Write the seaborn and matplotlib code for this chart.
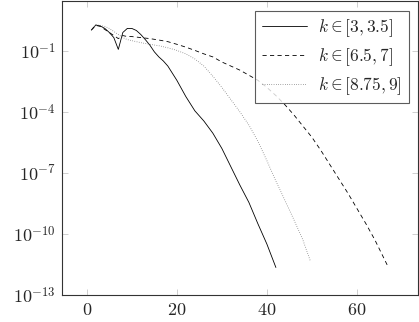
import numpy as np
import pandas as pd
import matplotlib
matplotlib.use("Agg")
import matplotlib.pyplot as plt
import seaborn as sns

# --- data (log10 of values) ---
x_a = [1, 2, 3, 4, 5, 6, 7, 8, 9, 10, 11, 12, 13, 14, 15, 16, 17, 18, 19, 20,
       21, 22, 23, 24, 25, 26, 27, 28, 30, 32, 34, 36, 38, 40, 42]
log_a = [0.02, 0.27, 0.22, 0.1, -0.1, -0.35, -0.93, -0.1, 0.1, 0.1, 0.0, -0.2,
         -0.45, -0.72, -1.05, -1.3, -1.5, -1.75, -2.1, -2.45, -2.85, -3.25,
         -3.6, -3.95, -4.2, -4.45, -4.75, -5.05, -5.8, -6.7, -7.6, -8.45,
         -9.5, -10.5, -11.65]

x_b = [1, 2, 3, 4, 5, 6, 7, 8, 9, 10, 12, 14, 16, 18, 20, 22, 24, 26, 28, 30,
       32, 34, 36, 38, 40, 42, 44, 46, 48, 50, 52, 54, 56, 58, 60, 62, 64, 66, 67]
log_b = [0.02, 0.25, 0.2, 0.05, -0.1, -0.25, -0.4, -0.25, -0.3, -0.3, -0.35,
         -0.4, -0.47, -0.55, -0.68, -0.82, -0.98, -1.15, -1.3, -1.55, -1.75,
         -1.95, -2.2, -2.45, -2.8, -3.2, -3.65, -4.15, -4.7, -5.25, -5.9,
         -6.6, -7.3, -8.0, -8.75, -9.5, -10.3, -11.2, -11.65]

x_c = [1, 2, 3, 4, 5, 6, 7, 8, 9, 10, 12, 14, 16, 18, 20, 22, 24, 26, 28, 30,
       32, 34, 36, 38, 40, 42, 44, 46, 48, 49.6]
log_c = [0.02, 0.27, 0.25, 0.2, 0.1, -0.05, -0.2, -0.35, -0.45, -0.5, -0.6,
         -0.68, -0.75, -0.85, -0.98, -1.15, -1.4, -1.75, -2.25, -2.8, -3.4,
         -4.0, -4.65, -5.45, -6.4, -7.4, -8.35, -9.3, -10.3, -11.3]

labels = [r"$k \in [3, 3.5]$", r"$k \in [6.5, 7]$", r"$k \in [8.75, 9]$"]
x_ticks = [0, 20, 40, 60]
y_ticks_exp = [-13, -10, -7, -4, -1]

sns.set_theme(style="white")
plt.rcParams["mathtext.fontset"] = "cm"
plt.rcParams["font.family"] = ["DejaVu Serif"]

fig = plt.figure(figsize=(4.19, 3.22), dpi=100)
ax = fig.add_axes([0.147, 0.084, 0.851, 0.913])

styles = [dict(linestyle="-", linewidth=0.6, color="black"),
          dict(linestyle=(0, (5, 4)), linewidth=0.6, color="black"),
          dict(linestyle=(0, (0.7, 2.0)), linewidth=0.6, color="#555555")]

for xs, ls, lab, st in zip([x_a, x_b, x_c], [log_a, log_b, log_c], labels, styles):
    df = pd.DataFrame({"x": xs, "y": 10.0 ** np.array(ls)})
    sns.lineplot(data=df, x="x", y="y", ax=ax, label=lab, sort=False, **st)

ax.set_yscale("log")
ax.set_xlim(-5.6, 73.6)
ax.set_ylim(1e-13, 10 ** 1.45)
ax.set_xticks(x_ticks)
ax.set_xticklabels([f"${t}$" for t in x_ticks])
ax.set_yticks([10.0 ** e for e in y_ticks_exp])
ax.set_yticklabels([f"$10^{{{e}}}$" for e in y_ticks_exp])
ax.yaxis.set_minor_locator(matplotlib.ticker.NullLocator())
ax.set_xlabel("")
ax.set_ylabel("")
ax.tick_params(axis="both", which="major", direction="in", length=4,
               color="#c8c8c8", width=0.6, labelsize=13, pad=4,
               top=True, right=True, bottom=True, left=True)
for sp in ax.spines.values():
    sp.set_color("#333333")
    sp.set_linewidth(0.8)

leg = ax.legend(loc="upper right", fontsize=12.5, frameon=True, fancybox=False,
                edgecolor="#333333", handlelength=2.6, handletextpad=0.6,
                borderpad=0.4, labelspacing=0.4, borderaxespad=0.55)
leg.get_frame().set_linewidth(0.8)

fig.savefig("out.png", dpi=100)
